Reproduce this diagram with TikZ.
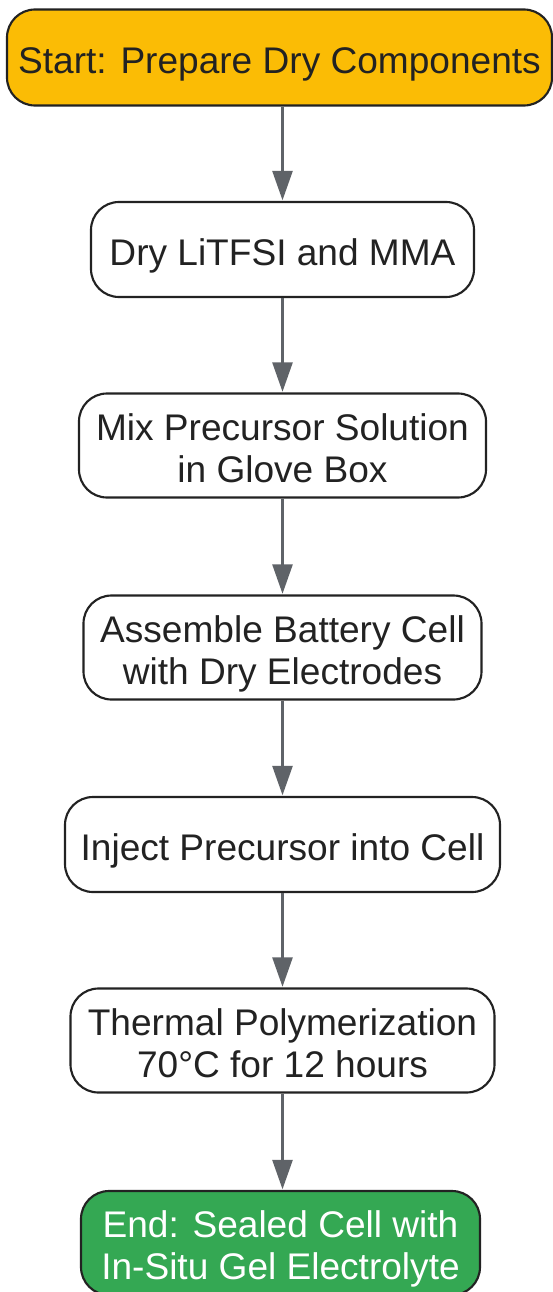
\documentclass[tikz,border=0pt]{standalone}
\usepackage{fontspec}
\setmainfont{Liberation Sans}
\usetikzlibrary{arrows.meta}
\definecolor{startc}{HTML}{FBBC05}
\definecolor{endc}{HTML}{34A853}
\definecolor{linec}{HTML}{222222}
\definecolor{arrowc}{HTML}{5F6368}
\tikzset{
  stepbox/.style={draw=linec, line width=1.6pt, rounded corners=21pt, fill=white,
    inner sep=0pt, align=center, text=linec,
    font=\fontsize{27.8}{31.3}\selectfont},
  oneline/.style={text height=27pt, text depth=3.4pt},
  twoline/.style={text height=59pt, text depth=4pt},
  startbox/.style={stepbox, fill=startc},
  endbox/.style={stepbox, fill=endc, text=white},
  arr/.style={draw=arrowc, line width=1.8pt,
    -{Triangle[length=22pt, width=15pt]}, shorten >=0.5pt}
}
\begin{document}
\begin{tikzpicture}[x=0.75pt, y=-0.75pt]
\useasboundingbox (0,0) rectangle (553,1292);
\clip (0,0) rectangle (553,1292);
\node[startbox, oneline, minimum width=408.75pt, minimum height=72pt] (n1) at (279.5,57.5) {Start: Prepare Dry Components};
\node[stepbox, oneline, minimum width=287.25pt, minimum height=71.25pt] (n2) at (282.5,249.5) {Dry LiTFSI and MMA};
\node[stepbox, twoline, minimum width=305.25pt, minimum height=78pt] (n3) at (282.5,445.5) {Mix Precursor Solution\\in Glove Box};
\node[stepbox, twoline, minimum width=298.5pt, minimum height=78pt] (n4) at (282.5,647.5) {Assemble Battery Cell\\with Dry Electrodes};
\node[stepbox, oneline, minimum width=326.25pt, minimum height=71.25pt] (n5) at (282.5,844.5) {Inject Precursor into Cell};
\node[stepbox, twoline, minimum width=318pt, minimum height=78pt] (n6) at (282.5,1040.5) {Thermal Polymerization\\70°C for 12 hours};
\node[endbox, twoline, minimum width=299.25pt, minimum height=78pt] (n7) at (280.5,1243) {End: Sealed Cell with\\In-Situ Gel Electrolyte};
\draw[arr] (n1.south -| n2) -- (n2.north);
\draw[arr] (n2) -- (n3);
\draw[arr] (n3) -- (n4);
\draw[arr] (n4) -- (n5);
\draw[arr] (n5) -- (n6);
\draw[arr] (n6.south) -- (n6.south |- n7.north);
\end{tikzpicture}
\end{document}
